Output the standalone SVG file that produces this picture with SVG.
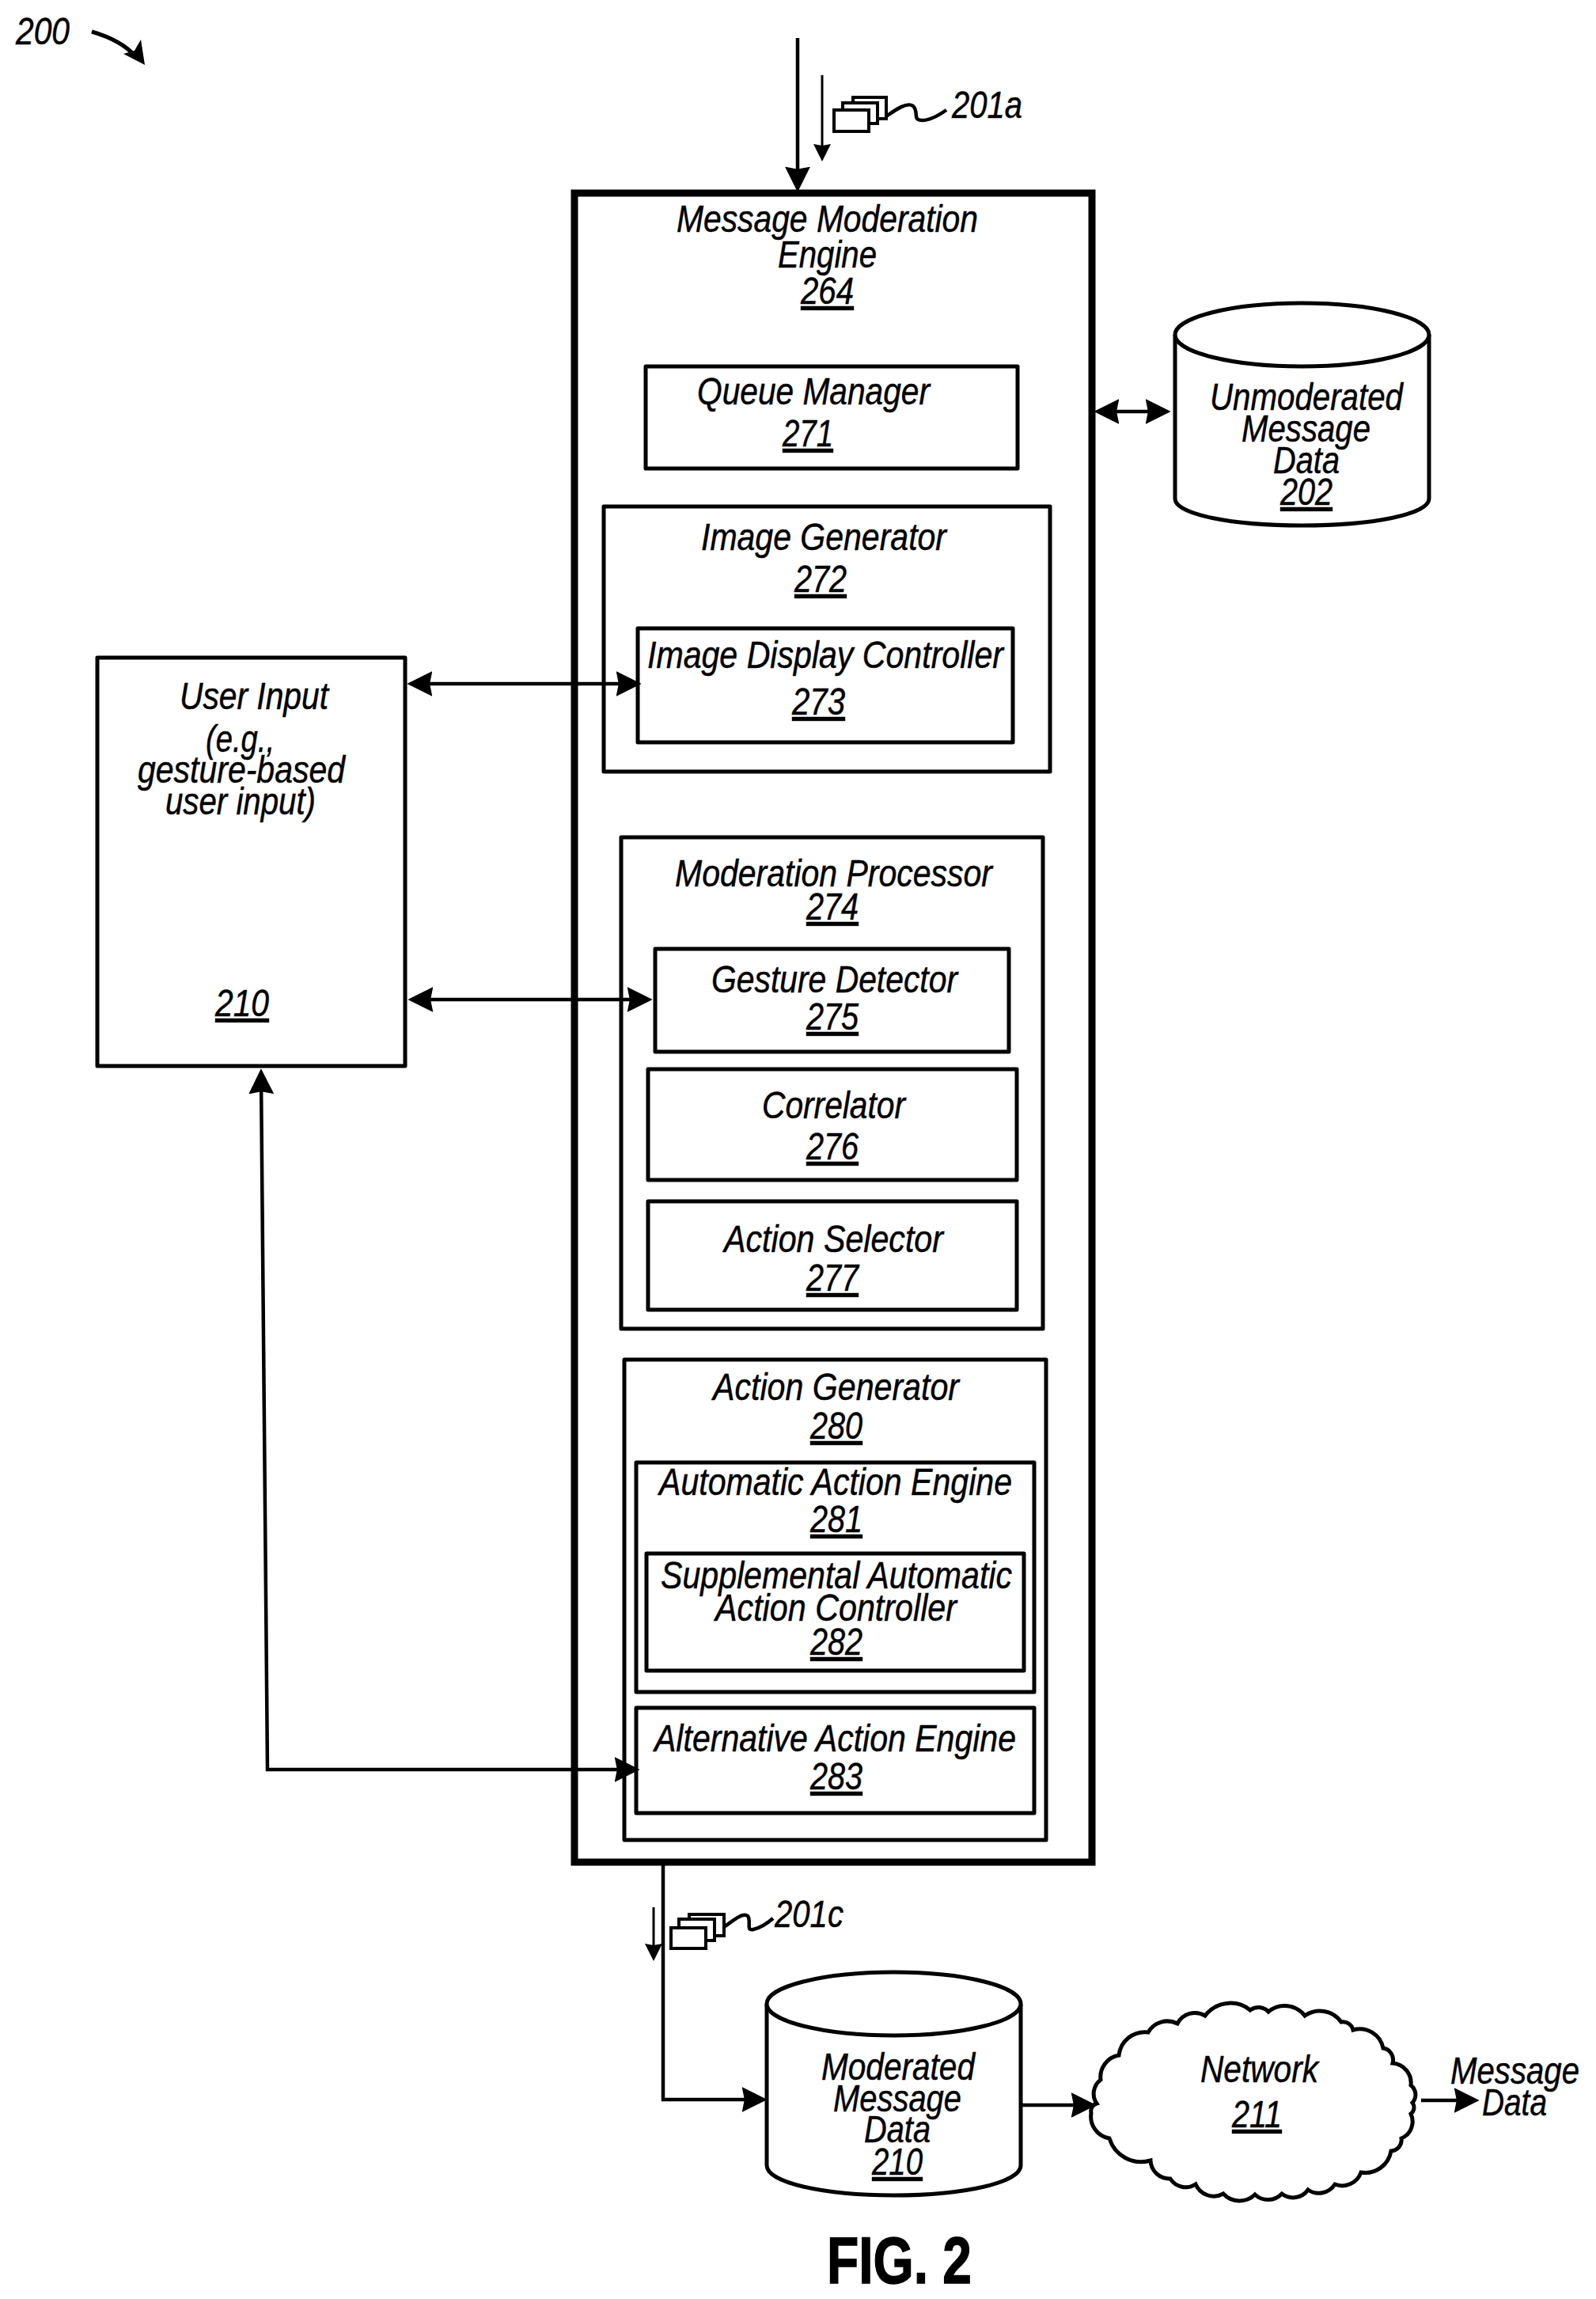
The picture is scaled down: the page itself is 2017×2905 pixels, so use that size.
<svg xmlns="http://www.w3.org/2000/svg" width="2017" height="2905" viewBox="0 0 2017 2905">
<style>
text{font-family:"Liberation Sans",Arial,sans-serif;font-style:italic;font-size:49px;fill:#000;stroke:#000;stroke-width:.5px}
.n{text-decoration:underline}
.fig{font-style:normal;font-weight:bold;font-size:84px;stroke-width:1.5px}
.box{fill:none;stroke:#000;stroke-width:5;stroke-linejoin:round}
.outer{fill:none;stroke:#000;stroke-width:9}
.cyl{fill:#fff;stroke:#000;stroke-width:5}
.icon{fill:#fff;stroke:#000;stroke-width:4}
.wire{fill:none;stroke:#000;stroke-width:4.500}
.thin{fill:none;stroke:#000;stroke-width:3}
.big{marker-end:url(#ah)}
.both{marker-end:url(#ah);marker-start:url(#ah)}
.small{marker-end:url(#as)}
</style>
<defs>
<marker id="ah" markerUnits="userSpaceOnUse" markerWidth="32" markerHeight="32" viewBox="0 0 30 30" refX="20" refY="15" orient="auto-start-reverse"><polygon points="0,0 30,15 0,30 3,15" fill="#000"/></marker>
<marker id="as" markerUnits="userSpaceOnUse" markerWidth="22" markerHeight="22" viewBox="0 0 22 22" refX="14" refY="11" orient="auto"><polygon points="0,0 22,11 0,22 2,11" fill="#000"/></marker>
</defs>
<rect width="2017" height="2905" fill="#fff"/>

<g id="fig-ref">
<text x="20" y="56" textLength="68" lengthAdjust="spacingAndGlyphs">200</text>
<path d="M116,40 C140,47 160,58 172,72" fill="none" stroke="#000" stroke-width="5"/>
<polygon points="183,82 156,68 170,64 178,50" fill="#000"/>
</g>

<g id="node-264">
<rect class="outer" x="726" y="244" width="654" height="2109"/>
<text x="855" y="293" textLength="381" lengthAdjust="spacingAndGlyphs">Message Moderation</text>
<text x="983" y="338" textLength="125" lengthAdjust="spacingAndGlyphs">Engine</text>
<text class="n" x="1012" y="384" textLength="67" lengthAdjust="spacingAndGlyphs">264</text>
</g>
<g id="node-271">
<rect class="box" x="816" y="463" width="470" height="129"/>
<text x="881" y="511" textLength="294" lengthAdjust="spacingAndGlyphs">Queue Manager</text>
<text class="n" x="989" y="564" textLength="64" lengthAdjust="spacingAndGlyphs">271</text>
</g>
<g id="node-272">
<rect class="box" x="763" y="640" width="564" height="335"/>
<text x="886" y="695" textLength="310" lengthAdjust="spacingAndGlyphs">Image Generator</text>
<text class="n" x="1004" y="748" textLength="66" lengthAdjust="spacingAndGlyphs">272</text>
</g>
<g id="node-273">
<rect class="box" x="806" y="794" width="474" height="144"/>
<text x="818" y="844" textLength="450" lengthAdjust="spacingAndGlyphs">Image Display Controller</text>
<text class="n" x="1001" y="903" textLength="67" lengthAdjust="spacingAndGlyphs">273</text>
</g>
<g id="node-274">
<rect class="box" x="785" y="1058" width="533" height="621"/>
<text x="853" y="1120" textLength="401" lengthAdjust="spacingAndGlyphs">Moderation Processor</text>
<text class="n" x="1019" y="1162" textLength="66" lengthAdjust="spacingAndGlyphs">274</text>
</g>
<g id="node-275">
<rect class="box" x="828" y="1199" width="447" height="130"/>
<text x="899" y="1254" textLength="311" lengthAdjust="spacingAndGlyphs">Gesture Detector</text>
<text class="n" x="1019" y="1301" textLength="66" lengthAdjust="spacingAndGlyphs">275</text>
</g>
<g id="node-276">
<rect class="box" x="819" y="1351" width="466" height="140"/>
<text x="963" y="1413" textLength="181" lengthAdjust="spacingAndGlyphs">Correlator</text>
<text class="n" x="1019" y="1465" textLength="66" lengthAdjust="spacingAndGlyphs">276</text>
</g>
<g id="node-277">
<rect class="box" x="819" y="1518" width="466" height="137"/>
<text x="915" y="1582" textLength="277" lengthAdjust="spacingAndGlyphs">Action Selector</text>
<text class="n" x="1019" y="1631" textLength="66" lengthAdjust="spacingAndGlyphs">277</text>
</g>
<g id="node-280">
<rect class="box" x="789" y="1718" width="533" height="607"/>
<text x="901" y="1769" textLength="311" lengthAdjust="spacingAndGlyphs">Action Generator</text>
<text class="n" x="1024" y="1818" textLength="66" lengthAdjust="spacingAndGlyphs">280</text>
</g>
<g id="node-281">
<rect class="box" x="804" y="1848" width="503" height="290"/>
<text x="833" y="1889" textLength="446" lengthAdjust="spacingAndGlyphs">Automatic Action Engine</text>
<text class="n" x="1024" y="1936" textLength="66" lengthAdjust="spacingAndGlyphs">281</text>
</g>
<g id="node-282">
<rect class="box" x="817" y="1963" width="477" height="148"/>
<text x="835" y="2007" textLength="444" lengthAdjust="spacingAndGlyphs">Supplemental Automatic</text>
<text x="904" y="2048" textLength="305" lengthAdjust="spacingAndGlyphs">Action Controller</text>
<text class="n" x="1024" y="2091" textLength="66" lengthAdjust="spacingAndGlyphs">282</text>
</g>
<g id="node-283">
<rect class="box" x="804" y="2158" width="503" height="133"/>
<text x="827" y="2213" textLength="457" lengthAdjust="spacingAndGlyphs">Alternative Action Engine</text>
<text class="n" x="1024" y="2261" textLength="66" lengthAdjust="spacingAndGlyphs">283</text>
</g>
<g id="node-user-input">
<rect class="box" x="123" y="831" width="389" height="516"/>
<text x="227" y="896" textLength="188" lengthAdjust="spacingAndGlyphs">User Input</text>
<text x="260" y="950" textLength="87" lengthAdjust="spacingAndGlyphs">(e.g.,</text>
<text x="174" y="989" textLength="262" lengthAdjust="spacingAndGlyphs">gesture-based</text>
<text x="209" y="1029" textLength="190" lengthAdjust="spacingAndGlyphs">user input)</text>
<text class="n" x="272" y="1284" textLength="68" lengthAdjust="spacingAndGlyphs">210</text>
</g>
<g id="node-202">
<path class="cyl" d="M1485,423 V630 C1485,650 1557,664 1645.500,664 C1734,664 1806,650 1806,630 V423"/>
<ellipse class="cyl" cx="1645.500" cy="423" rx="160.500" ry="40"/>
<text x="1529" y="518" textLength="244" lengthAdjust="spacingAndGlyphs">Unmoderated</text>
<text x="1569" y="558" textLength="163" lengthAdjust="spacingAndGlyphs">Message</text>
<text x="1609" y="598" textLength="84" lengthAdjust="spacingAndGlyphs">Data</text>
<text class="n" x="1618" y="638" textLength="66" lengthAdjust="spacingAndGlyphs">202</text>
</g>
<g id="node-moderated-210">
<path class="cyl" d="M969,2532 V2736 C969,2758 1041,2774 1129.500,2774 C1218,2774 1290,2758 1290,2736 V2532"/>
<ellipse class="cyl" cx="1129.500" cy="2532" rx="160.500" ry="40"/>
<text x="1038" y="2628" textLength="194" lengthAdjust="spacingAndGlyphs">Moderated</text>
<text x="1053" y="2668" textLength="162" lengthAdjust="spacingAndGlyphs">Message</text>
<text x="1092" y="2707" textLength="84" lengthAdjust="spacingAndGlyphs">Data</text>
<text class="n" x="1102" y="2748" textLength="64" lengthAdjust="spacingAndGlyphs">210</text>
</g>
<g id="node-211">
<path class="cyl" d="M1386,2658 A22,22 0 0 1 1391,2628 A28,28 0 0 1 1414,2597 A33,33 0 0 1 1451,2568 A28,28 0 0 1 1488,2557 A25,25 0 0 1 1523,2547 A40,40 0 0 1 1580,2540 A17,17 0 0 1 1603,2542 A32,32 0 0 1 1649,2547 A33,33 0 0 1 1695,2555 A13,13 0 0 1 1710,2565 A30,30 0 0 1 1748,2588 A15,15 0 0 1 1760,2607 A25,25 0 0 1 1783,2635 A15,15 0 0 1 1785,2657 A10,10 0 0 1 1783,2671 A23,23 0 0 1 1771,2702 A14,14 0 0 1 1758,2718 A33,33 0 0 1 1720,2745 A25,25 0 0 1 1687,2760 A24,24 0 0 1 1653,2767 A23,23 0 0 1 1620,2772 A24,24 0 0 1 1586,2773 A28,28 0 0 1 1546,2772 A25,25 0 0 1 1511,2760 A23,23 0 0 1 1479,2753 A24,24 0 0 1 1454,2730 A42,42 0 0 1 1402,2702 A28,28 0 0 1 1379,2670 A10,10 0 0 1 1386,2658 Z"/>
<text x="1517" y="2631" textLength="149" lengthAdjust="spacingAndGlyphs">Network</text>
<text class="n" x="1557" y="2688" textLength="63" lengthAdjust="spacingAndGlyphs">211</text>
</g>
<g id="message-icon-201a">
<rect class="icon" x="1078" y="123" width="42" height="27"/>
<rect class="icon" x="1065" y="130" width="44" height="26"/>
<rect class="icon" x="1054" y="139" width="44" height="27"/>
<path class="wire" d="M1120,147 C1130,140 1146,128 1154,134 C1162,142 1152,152 1166,152 C1176,152 1186,146 1196,139"/>
<text x="1203" y="149" textLength="89" lengthAdjust="spacingAndGlyphs">201a</text>
</g>
<g id="message-icon-201c">
<rect class="icon" x="871" y="2419" width="44" height="27"/>
<rect class="icon" x="858" y="2425" width="45" height="27"/>
<rect class="icon" x="848" y="2436" width="44" height="26"/>
<path class="wire" d="M915,2435 C925,2428 938,2416 945,2421 C950,2428 942,2440 952,2438 C962,2436 970,2430 977,2424"/>
<text x="979" y="2435" textLength="87" lengthAdjust="spacingAndGlyphs">201c</text>
</g>
<g id="label-message-data">
<text x="1833" y="2633" textLength="163" lengthAdjust="spacingAndGlyphs">Message</text>
<text x="1873" y="2673" textLength="82" lengthAdjust="spacingAndGlyphs">Data</text>
</g>

<g id="connectors">
<path class="wire big" d="M1008,48 V232"/>
<path class="thin small" d="M1039,95 V196"/>
<path class="wire both" d="M525,864 H800"/>
<path class="wire both" d="M526,1263 H814"/>
<path class="wire both" d="M1393,520 H1469"/>
<path class="wire both" d="M798,2236 H338 L330,1361"/>
<path class="thin small" d="M826,2410 V2470"/>
<path class="wire big" d="M838,2353 V2653 H959"/>
<path class="wire big" d="M1291,2660 H1375"/>
<path class="wire big" d="M1796,2654 H1859"/>
</g>

<text class="fig" x="1045" y="2885" textLength="183" lengthAdjust="spacingAndGlyphs">FIG. 2</text>
</svg>
